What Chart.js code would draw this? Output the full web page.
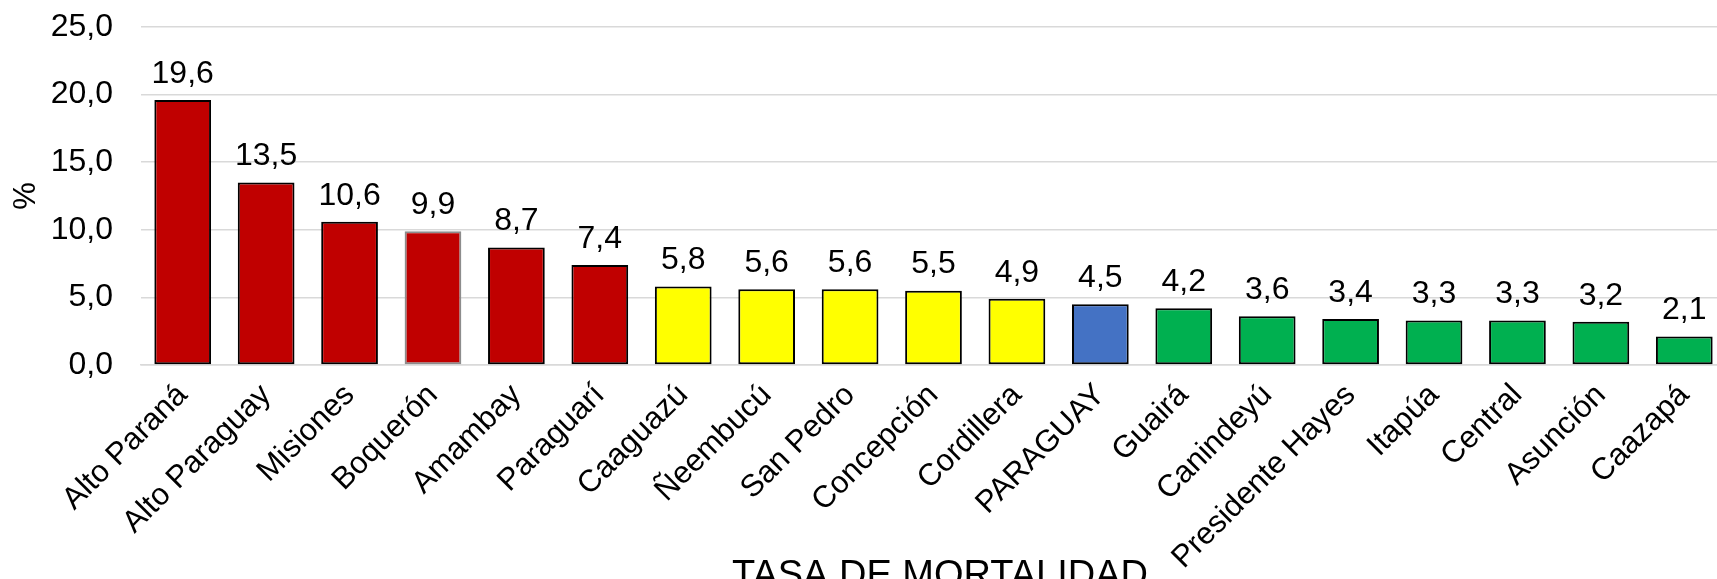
<!DOCTYPE html>
<html>
<head>
<meta charset="utf-8">
<script src="https://cdn.jsdelivr.net/npm/chart.js@4/dist/chart.umd.min.js"></script>
<style>
  html, body { margin: 0; padding: 0; background: #fff; overflow: hidden; }
  #wrap { width: 1717px; height: 579px; overflow: hidden; }
</style>
</head>
<body>
<div id="wrap"><canvas id="chart" width="1726" height="579"></canvas></div>
<script>
const departamentos = ['Alto Paraná', 'Alto Paraguay', 'Misiones', 'Boquerón', 'Amambay', 'Paraguarí',
  'Caaguazú', 'Ñeembucú', 'San Pedro', 'Concepción', 'Cordillera', 'PARAGUAY', 'Guairá', 'Canindeyú',
  'Presidente Hayes', 'Itapúa', 'Central', 'Asunción', 'Caazapá'];
const tasa = [19.6, 13.5, 10.6, 9.9, 8.7, 7.4, 5.8, 5.6, 5.6, 5.5, 4.9, 4.5, 4.2, 3.6, 3.4, 3.3, 3.3, 3.2, 2.1];
const grupo = ['alto', 'alto', 'alto', 'alto', 'alto', 'alto',
  'medio', 'medio', 'medio', 'medio', 'medio', 'pais', 'bajo', 'bajo',
  'bajo', 'bajo', 'bajo', 'bajo', 'bajo'];
const yTicks = [0, 5, 10, 15, 20, 25];
const tituloX = 'TASA DE MORTALIDAD';
const tituloY = '%';

const colores = { alto: '#C00000', medio: '#FFFF00', pais: '#4472C4', bajo: '#00B050' };
const FONT = '"Liberation Sans", Arial, sans-serif';
const fmt = v => v.toFixed(1).replace('.', ',');

// value labels above each bar
const valueLabels = {
  id: 'valueLabels',
  afterDatasetsDraw(chart) {
    const ctx = chart.ctx;
    const meta = chart.getDatasetMeta(0);
    ctx.save();
    ctx.font = '32px ' + FONT;
    ctx.fillStyle = '#000';
    ctx.textAlign = 'center';
    ctx.textBaseline = 'bottom';
    meta.data.forEach((bar, i) => {
      ctx.fillText(fmt(tasa[i]), bar.x, bar.y - 10);
    });
    ctx.restore();
  }
};

// x axis title, sits over the rotated labels and runs off the bottom edge
const xTitle = {
  id: 'xTitle',
  afterDraw(chart) {
    const ctx = chart.ctx;
    ctx.save();
    ctx.font = '38px ' + FONT;
    ctx.fillStyle = '#000';
    ctx.textAlign = 'center';
    ctx.textBaseline = 'top';
    ctx.fillText(tituloX, 940, 558);
    ctx.restore();
  }
};

new Chart(document.getElementById('chart'), {
  type: 'bar',
  data: {
    labels: departamentos,
    datasets: [{
      data: tasa,
      backgroundColor: grupo.map(g => colores[g]),
      borderColor: departamentos.map(d => d === 'Boquerón' ? '#8c8c8c' : '#000'),
      borderWidth: 2,
      borderSkipped: false,
      categoryPercentage: 1,
      barPercentage: 0.68
    }]
  },
  options: {
    responsive: false,
    animation: false,
    layout: { padding: { top: 27, right: 0, left: 0, bottom: 0 } },
    plugins: {
      legend: { display: false },
      tooltip: { enabled: false }
    },
    scales: {
      x: {
        grid: { display: false },
        border: { color: '#D9D9D9', width: 1.5 },
        ticks: {
          color: '#000',
          font: { family: FONT, size: 31 },
          minRotation: 45,
          maxRotation: 45,
          autoSkip: false,
          padding: 4
        },
        afterFit(scale) {
          scale.height = 214;
          scale.paddingLeft = 0;
          scale.paddingRight = 0;
        }
      },
      y: {
        min: 0,
        max: 25,
        afterBuildTicks(scale) { scale.ticks = yTicks.map(v => ({ value: v })); },
        grid: { color: '#D9D9D9', lineWidth: 1.5, drawTicks: false },
        border: { display: false },
        ticks: {
          color: '#000',
          font: { family: FONT, size: 32 },
          padding: 28,
          callback: v => fmt(v)
        },
        title: {
          display: true,
          text: tituloY,
          color: '#000',
          font: { family: FONT, size: 31 },
          padding: { top: 8, bottom: 0 }
        },
        afterFit(scale) {
          scale.width = 141;
          scale.paddingTop = 0;
          scale.paddingBottom = 0;
        }
      }
    }
  },
  plugins: [valueLabels, xTitle]
});
</script>
</body>
</html>
